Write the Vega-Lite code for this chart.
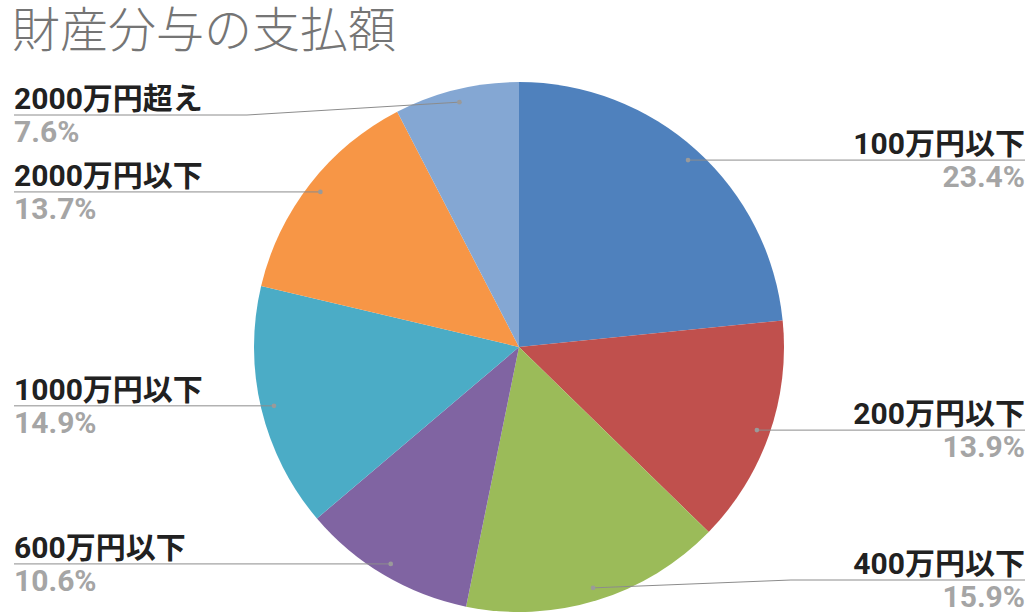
{
  "$schema": "https://vega.github.io/schema/vega-lite/v6.json",
  "width": 1035,
  "height": 534,
  "padding": {"left": 0, "right": 0, "top": 80, "bottom": 0},
  "autosize": {"type": "none"},
  "background": "white",
  "title": {
    "text": "財産分与の支払額",
    "anchor": "start",
    "orient": "top",
    "frame": "group",
    "fontSize": 48,
    "font": "Noto Sans CJK JP",
    "fontWeight": 300,
    "color": "#757575",
    "baseline": "alphabetic",
    "offset": -15,
    "dx": 12
  },
  "config": {"view": {"stroke": null}, "axis": {"disable": true}},
  "data": {
    "values": [
      {"k": "100万円以下", "v": 23.4},
      {"k": "200万円以下", "v": 13.9},
      {"k": "400万円以下", "v": 15.9},
      {"k": "600万円以下", "v": 10.6},
      {"k": "1000万円以下", "v": 14.9},
      {"k": "2000万円以下", "v": 13.7},
      {"k": "2000万円超え", "v": 7.6}
    ]
  },
  "transform": [
    {"window": [{"op": "sum", "field": "v", "as": "cum"}], "frame": [null, 0]},
    {"calculate": "datum.cum - datum.v", "as": "start"},
    {"calculate": "(datum.cum - datum.v / 2) / 100 * 2 * PI", "as": "mid"},
    {"calculate": "252 * sin(datum.mid)", "as": "px"},
    {"calculate": "252 * cos(datum.mid)", "as": "py"},
    {"calculate": "datum.px >= 0 ? 'R' : 'L'", "as": "side"},
    {"calculate": "max(min(datum.py, 232), -233)", "as": "ly"},
    {"calculate": "datum.px >= 0 ? 272 : -272", "as": "ex"},
    {"calculate": "datum.px >= 0 ? 506 : -505", "as": "edge"},
    {"calculate": "format(datum.v, '.1f') + '%'", "as": "pct"}
  ],
  "layer": [
    {
      "mark": {"type": "arc", "outerRadius": 265},
      "encoding": {
        "x": {"datum": 0, "type": "quantitative", "scale": {"domain": [-519, 516], "nice": false, "zero": false}},
        "y": {"datum": 0, "type": "quantitative", "scale": {"domain": [-267, 267], "nice": false, "zero": false}},
        "theta": {"field": "start", "type": "quantitative", "stack": null, "scale": {"domain": [0, 100], "range": [0, 6.283185307]}},
        "theta2": {"field": "cum"},
        "color": {
          "field": "k",
          "type": "nominal",
          "legend": null,
          "scale": {
            "domain": ["100万円以下", "200万円以下", "400万円以下", "600万円以下", "1000万円以下", "2000万円以下", "2000万円超え"],
            "range": ["#4f81bd", "#c0504d", "#9bbb59", "#8064a2", "#4bacc6", "#f79646", "#84a7d3"]
          }
        }
      }
    },
    {
      "mark": {"type": "rule", "color": "#8c8c8c", "strokeWidth": 1},
      "encoding": {
        "x": {"field": "px", "type": "quantitative", "scale": {"domain": [-519, 516], "nice": false, "zero": false}},
        "y": {"field": "py", "type": "quantitative", "scale": {"domain": [-267, 267], "nice": false, "zero": false}},
        "x2": {"field": "ex"},
        "y2": {"field": "ly"}
      }
    },
    {
      "mark": {"type": "rule", "color": "#8c8c8c", "strokeWidth": 1},
      "encoding": {
        "x": {"field": "ex", "type": "quantitative", "scale": {"domain": [-519, 516], "nice": false, "zero": false}},
        "y": {"field": "ly", "type": "quantitative", "scale": {"domain": [-267, 267], "nice": false, "zero": false}},
        "x2": {"field": "edge"}
      }
    },
    {
      "mark": {"type": "point", "filled": true, "color": "#9a9a9a", "size": 22, "opacity": 1},
      "encoding": {
        "x": {"field": "px", "type": "quantitative", "scale": {"domain": [-519, 516], "nice": false, "zero": false}},
        "y": {"field": "py", "type": "quantitative", "scale": {"domain": [-267, 267], "nice": false, "zero": false}}
      }
    },
    {
      "transform": [{"filter": "datum.side == 'R'"}],
      "mark": {"type": "text", "align": "right", "baseline": "alphabetic", "dy": -6, "fontSize": 30, "fontWeight": "bold", "font": "Roboto, Noto Sans CJK JP", "color": "#212121"},
      "encoding": {
        "x": {"field": "edge", "type": "quantitative", "scale": {"domain": [-519, 516], "nice": false, "zero": false}},
        "y": {"field": "ly", "type": "quantitative", "scale": {"domain": [-267, 267], "nice": false, "zero": false}},
        "text": {"field": "k"}
      }
    },
    {
      "transform": [{"filter": "datum.side == 'R'"}],
      "mark": {"type": "text", "align": "right", "baseline": "alphabetic", "dy": 27, "fontSize": 30, "fontWeight": "bold", "font": "Roboto, Noto Sans CJK JP", "color": "#a5a5a5"},
      "encoding": {
        "x": {"field": "edge", "type": "quantitative", "scale": {"domain": [-519, 516], "nice": false, "zero": false}},
        "y": {"field": "ly", "type": "quantitative", "scale": {"domain": [-267, 267], "nice": false, "zero": false}},
        "text": {"field": "pct"}
      }
    },
    {
      "transform": [{"filter": "datum.side == 'L'"}],
      "mark": {"type": "text", "align": "left", "baseline": "alphabetic", "dy": -6, "fontSize": 30, "fontWeight": "bold", "font": "Roboto, Noto Sans CJK JP", "color": "#212121"},
      "encoding": {
        "x": {"field": "edge", "type": "quantitative", "scale": {"domain": [-519, 516], "nice": false, "zero": false}},
        "y": {"field": "ly", "type": "quantitative", "scale": {"domain": [-267, 267], "nice": false, "zero": false}},
        "text": {"field": "k"}
      }
    },
    {
      "transform": [{"filter": "datum.side == 'L'"}],
      "mark": {"type": "text", "align": "left", "baseline": "alphabetic", "dy": 27, "fontSize": 30, "fontWeight": "bold", "font": "Roboto, Noto Sans CJK JP", "color": "#a5a5a5"},
      "encoding": {
        "x": {"field": "edge", "type": "quantitative", "scale": {"domain": [-519, 516], "nice": false, "zero": false}},
        "y": {"field": "ly", "type": "quantitative", "scale": {"domain": [-267, 267], "nice": false, "zero": false}},
        "text": {"field": "pct"}
      }
    }
  ]
}
